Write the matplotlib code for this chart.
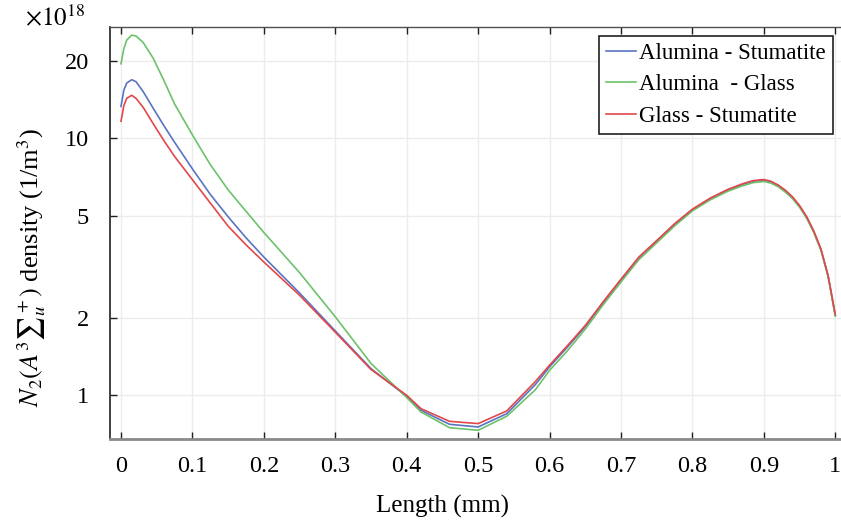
import matplotlib
matplotlib.use("Agg")
import matplotlib.pyplot as plt

plt.rcParams["font.family"] = ["Liberation Serif", "DejaVu Serif"]
plt.rcParams["mathtext.fontset"] = "stix"

# Length (mm) and density (x1e18 1/m^3)
length_left = [0, 0.004, 0.008, 0.015, 0.021, 0.031, 0.045, 0.06, 0.075, 0.1,
               0.125, 0.15, 0.175, 0.2, 0.25, 0.3, 0.35, 0.4]
length_mid = [0.42, 0.46, 0.5, 0.54, 0.58]
length_right = [0.6, 0.625, 0.65, 0.675, 0.7, 0.725, 0.75, 0.775, 0.8, 0.825,
                0.85, 0.87, 0.885, 0.9, 0.91, 0.92, 0.93, 0.94, 0.95, 0.96,
                0.97, 0.98, 0.99, 1.0]
length = length_left + length_mid + length_right

alumina_stumatite = (
    [13.3, 15.4, 16.4, 16.9, 16.6, 15.2, 13.1, 11.2, 9.65, 7.6,
     6.05, 4.95, 4.1, 3.45, 2.5, 1.78, 1.27, 0.99]
    + [0.874, 0.771, 0.753, 0.848, 1.1]
    + [1.29, 1.54, 1.85, 2.29, 2.81, 3.43, 3.98, 4.62, 5.28, 5.83,
       6.31, 6.62, 6.81, 6.88, 6.77, 6.55, 6.25, 5.89, 5.44, 4.93,
       4.33, 3.69, 2.91, 2.05]
)
alumina_glass = (
    [19.5, 22.3, 24.1, 25.2, 25.0, 23.6, 20.5, 16.8, 13.6, 10.3,
     7.9, 6.3, 5.2, 4.3, 3.0, 2.02, 1.33, 0.98]
    + [0.861, 0.748, 0.731, 0.829, 1.05]
    + [1.25, 1.49, 1.81, 2.25, 2.76, 3.37, 3.92, 4.56, 5.22, 5.76,
       6.23, 6.53, 6.72, 6.79, 6.69, 6.48, 6.18, 5.83, 5.39, 4.88,
       4.29, 3.66, 2.89, 2.03]
)
glass_stumatite = (
    [11.65, 13.4, 14.3, 14.7, 14.3, 13.2, 11.4, 9.8, 8.5, 6.9,
     5.6, 4.55, 3.85, 3.3, 2.45, 1.76, 1.26, 1.0]
    + [0.887, 0.792, 0.776, 0.869, 1.13]
    + [1.31, 1.56, 1.87, 2.31, 2.83, 3.45, 4.0, 4.65, 5.3, 5.85,
       6.33, 6.65, 6.84, 6.91, 6.8, 6.58, 6.28, 5.92, 5.47, 4.95,
       4.35, 3.7, 2.92, 2.06]
)

labels = ["Alumina - Stumatite", "Alumina  - Glass", "Glass - Stumatite"]
colors = ["#5a74c4", "#6cc26a", "#e2474a"]
yticks = [1, 2, 5, 10, 20]
xticks = [0, 0.1, 0.2, 0.3, 0.4, 0.5, 0.6, 0.7, 0.8, 0.9, 1.0]
xticklabels = ["0", "0.1", "0.2", "0.3", "0.4", "0.5", "0.6", "0.7", "0.8", "0.9", "1"]

fig = plt.figure(figsize=(8.41, 5.27), dpi=100)
ax = fig.add_axes([110 / 841, 1 - 439 / 527, 731 / 841, 412 / 527])

for y, lab, c in zip([alumina_stumatite, alumina_glass, glass_stumatite], labels, colors):
    ax.plot(length, y, color=c, lw=1.2, label=lab)

ax.set_yscale("log")
ax.set_xlim(-0.0154, 1.008)
ax.set_ylim(0.676, 27.1)
ax.set_yticks(yticks)
ax.set_yticklabels([str(v) for v in yticks])
ax.yaxis.set_minor_locator(plt.NullLocator())
ax.set_xticks(xticks)
ax.set_xticklabels(xticklabels)

ax.grid(True, color="#ececec", lw=1.0)
ax.set_axisbelow(True)

ax.spines["right"].set_visible(False)
ax.spines["left"].set_color("#202020")
ax.spines["left"].set_linewidth(1.2)
ax.spines["top"].set_color("#505050")
ax.spines["top"].set_linewidth(1.0)
ax.spines["bottom"].set_color("#8a8a8a")
ax.spines["bottom"].set_linewidth(2.0)

ax.tick_params(axis="x", direction="in", length=5, width=1, color="#202020",
               top=True, labelsize=17.5, pad=12)
ax.tick_params(axis="y", direction="in", length=5, width=1, color="#202020",
               labelsize=17.5, pad=15)

ax.set_xlabel("Length (mm)", fontsize=18)
ax.xaxis.set_label_coords((443 - 110) / 731, -(495 - 439) / 412)
ax.set_ylabel(r"$N_2(A^3{\sum}_u^+)$ density (1/m$^3$)", fontsize=19)
ax.yaxis.set_label_coords(-(110 - 48) / 731, (439 - 268) / 412)

fig.text(25 / 841, 1 - 17 / 527, r"$\times10^{18}$", fontsize=18, va="center")

leg = ax.legend(loc="upper right", bbox_to_anchor=(833 / 841, 1 - 36 / 527),
                bbox_transform=fig.transFigure, fontsize=16.5, frameon=True,
                fancybox=False, edgecolor="#202020", framealpha=1,
                handlelength=1.3, handletextpad=0.15, borderpad=0.3,
                labelspacing=0.45, borderaxespad=0)
leg.get_frame().set_linewidth(1.2)

fig.savefig("out.png", dpi=100)
